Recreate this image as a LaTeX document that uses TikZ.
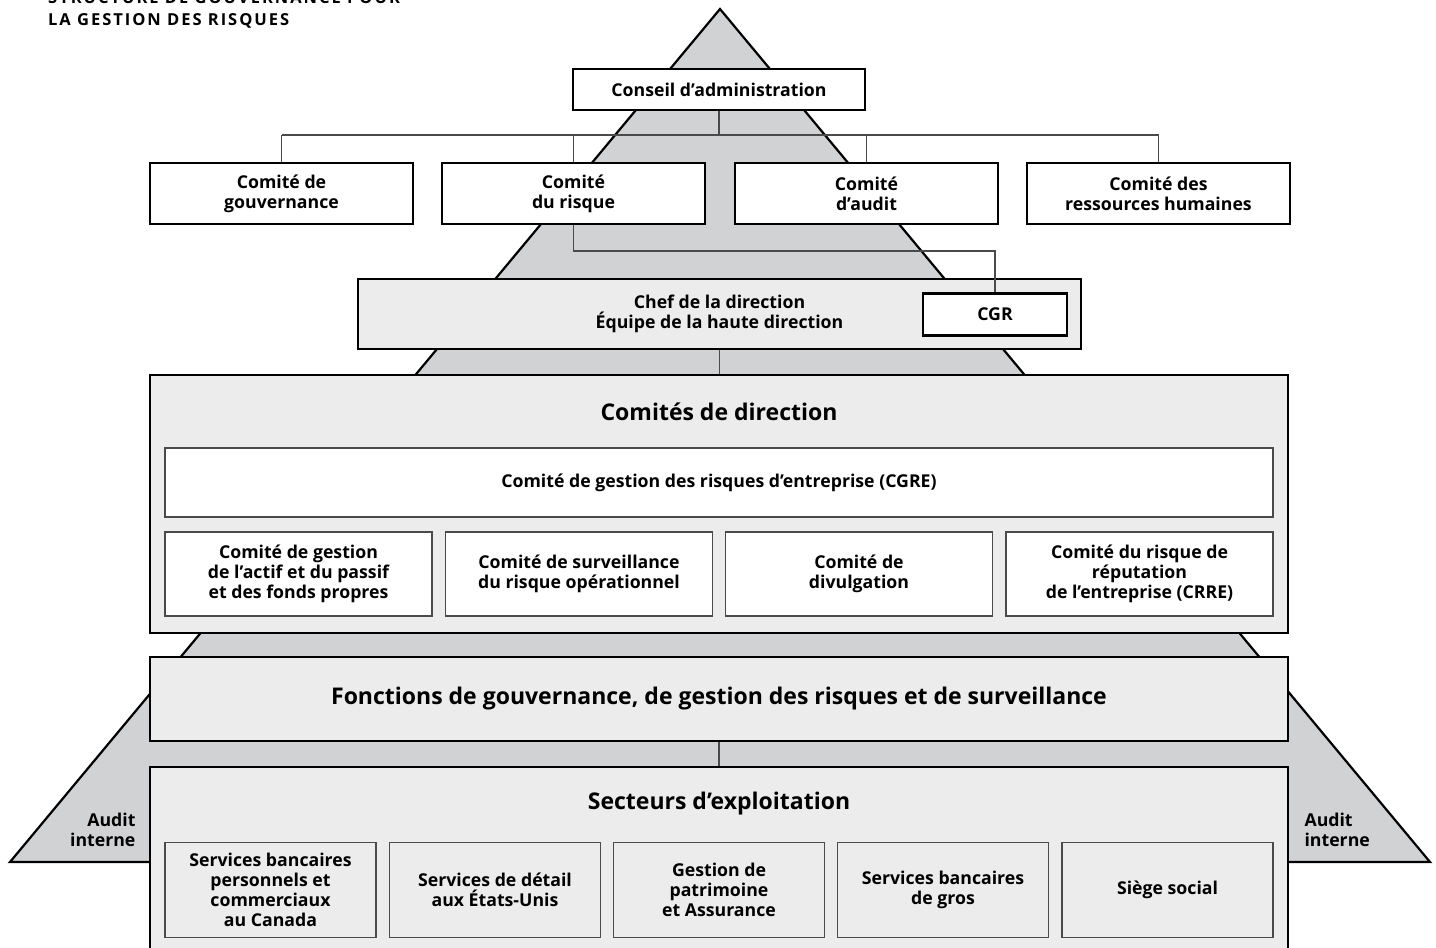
\documentclass[tikz,border=0pt]{standalone}
\usepackage{fontspec}
\setmainfont{Open Sans}
\usetikzlibrary{positioning}

\definecolor{pyramide}{HTML}{D1D2D4}
\definecolor{fond}{HTML}{ECECEC}
\definecolor{trait}{HTML}{4A4A4A}

\begin{document}
\begin{tikzpicture}[x=1pt,y=-1pt,
    boite/.style={draw,line width=2.4pt,fill=white,align=center,inner sep=0pt,
      font=\bfseries\fontsize{17.7}{19.8}\selectfont},
    bloc/.style={boite,fill=fond},
    sousboite/.style={draw=trait,line width=1.1pt,fill=white,align=center,inner sep=0pt,
      font=\bfseries\fontsize{17.7}{19.8}\selectfont},
    titre/.style={font=\bfseries\fontsize{23}{26}\selectfont},
    lien/.style={draw=trait,line width=1.1pt}]
  \useasboundingbox (0,0) rectangle (1436,948);

  % titre (coupe en haut)
  \node[anchor=base west,inner sep=0pt,font=\bfseries\fontsize{16.5}{20}\selectfont\addfontfeatures{LetterSpace=12}]
    (titre1) at (48,3) {STRUCTURE DE GOUVERNANCE POUR};
  \node[anchor=base west,inner sep=0pt,font=\bfseries\fontsize{16.5}{20}\selectfont\addfontfeatures{LetterSpace=12}]
    (titre2) at (48,25) {LA GESTION DES RISQUES};

  % la pyramide derriere tout
  \draw[fill=pyramide,line width=2.2pt] (720,9) -- (1430,862) -- (10,862) -- cycle;

  \node[boite,minimum width=292,minimum height=41] (conseil) at (719,89.5) {Conseil d’administration};

  % comites du conseil
  \foreach \x/\nom/\texte in {
      281.5/gouv/{Comité de\\gouvernance},
      573.5/risque/{Comité\\du risque},
      866.5/audit/{Comité\\d’audit},
      1158.5/rh/{Comité des\\ressources humaines}}
  {
    \node[boite,minimum width=263,minimum height=61] (\nom) at (\x,193.5) {\texte};
  };

  \node[bloc,minimum width=723,minimum height=70] (chef) at (719.5,314)
    {Chef de la direction\\Équipe de la haute direction};
  \node[boite,minimum width=144,minimum height=42] (cgr) at (995,314.5) {CGR};

  % comites de direction
  \node[bloc,minimum width=1138,minimum height=258] (comites) at (719,504) {};
  \node[titre] (titrecomites) at (719,412) {Comités de direction};
  \node[sousboite,minimum width=1108,minimum height=69] (cgre) at (719,482.5)
    {Comité de gestion des risques d’entreprise (CGRE)};
  \foreach \x/\nom/\texte in {
      298.5/actif/{Comité de gestion\\de l’actif et du passif\\et des fonds propres},
      579/oper/{Comité de surveillance\\du risque opérationnel},
      859/divul/{Comité de\\divulgation},
      1139.5/crre/{Comité du risque de\\réputation\\de l’entreprise (CRRE)}}
  {
    \node[sousboite,minimum width=267,minimum height=84] (\nom) at (\x,574) {\texte};
  };

  \node[bloc,minimum width=1138,minimum height=84,titre] (fonctions) at (719,699)
    {Fonctions de gouvernance, de gestion des risques et de surveillance};

  % secteurs d'exploitation
  \node[bloc,minimum width=1138,minimum height=190] (secteurs) at (719,862) {};
  \node[titre] (titresecteurs) at (719,804) {Secteurs d’exploitation};
  \foreach \x/\nom/\texte in {
      270.5/canada/{Services bancaires\\personnels et\\commerciaux\\au Canada},
      495/usa/{Services de détail\\aux États-Unis},
      719/patrimoine/{Gestion de\\patrimoine\\et Assurance},
      943/gros/{Services bancaires\\de gros},
      1167.5/siege/{Siège social}}
  {
    \node[sousboite,fill=fond,minimum width=211,minimum height=95] (\nom) at (\x,890) {\texte};
  };

  \node[anchor=east,align=right,font=\bfseries\fontsize{17.7}{19.8}\selectfont] (auditg) at (139,830) {Audit\\interne};
  \node[anchor=west,align=left,font=\bfseries\fontsize{17.7}{19.8}\selectfont] (auditd) at (1301,830) {Audit\\interne};

  % liens
  \coordinate (bus) at (719,135);
  \coordinate (coude) at (0,251);
  \draw[lien] (conseil.south) -- (bus);
  \draw[lien] (gouv.north |- bus) -- (rh.north |- bus);
  \foreach \nom in {gouv,risque,audit,rh}
    \draw[lien] (\nom.north) -- (\nom.north |- bus);
  \draw[lien] (risque.south) -- (risque.south |- coude) -| (cgr.north);
  \draw[lien] (chef.south) -- (chef.south |- comites.north);
  \draw[lien] (fonctions.south) -- (fonctions.south |- secteurs.north);
\end{tikzpicture}
\end{document}
